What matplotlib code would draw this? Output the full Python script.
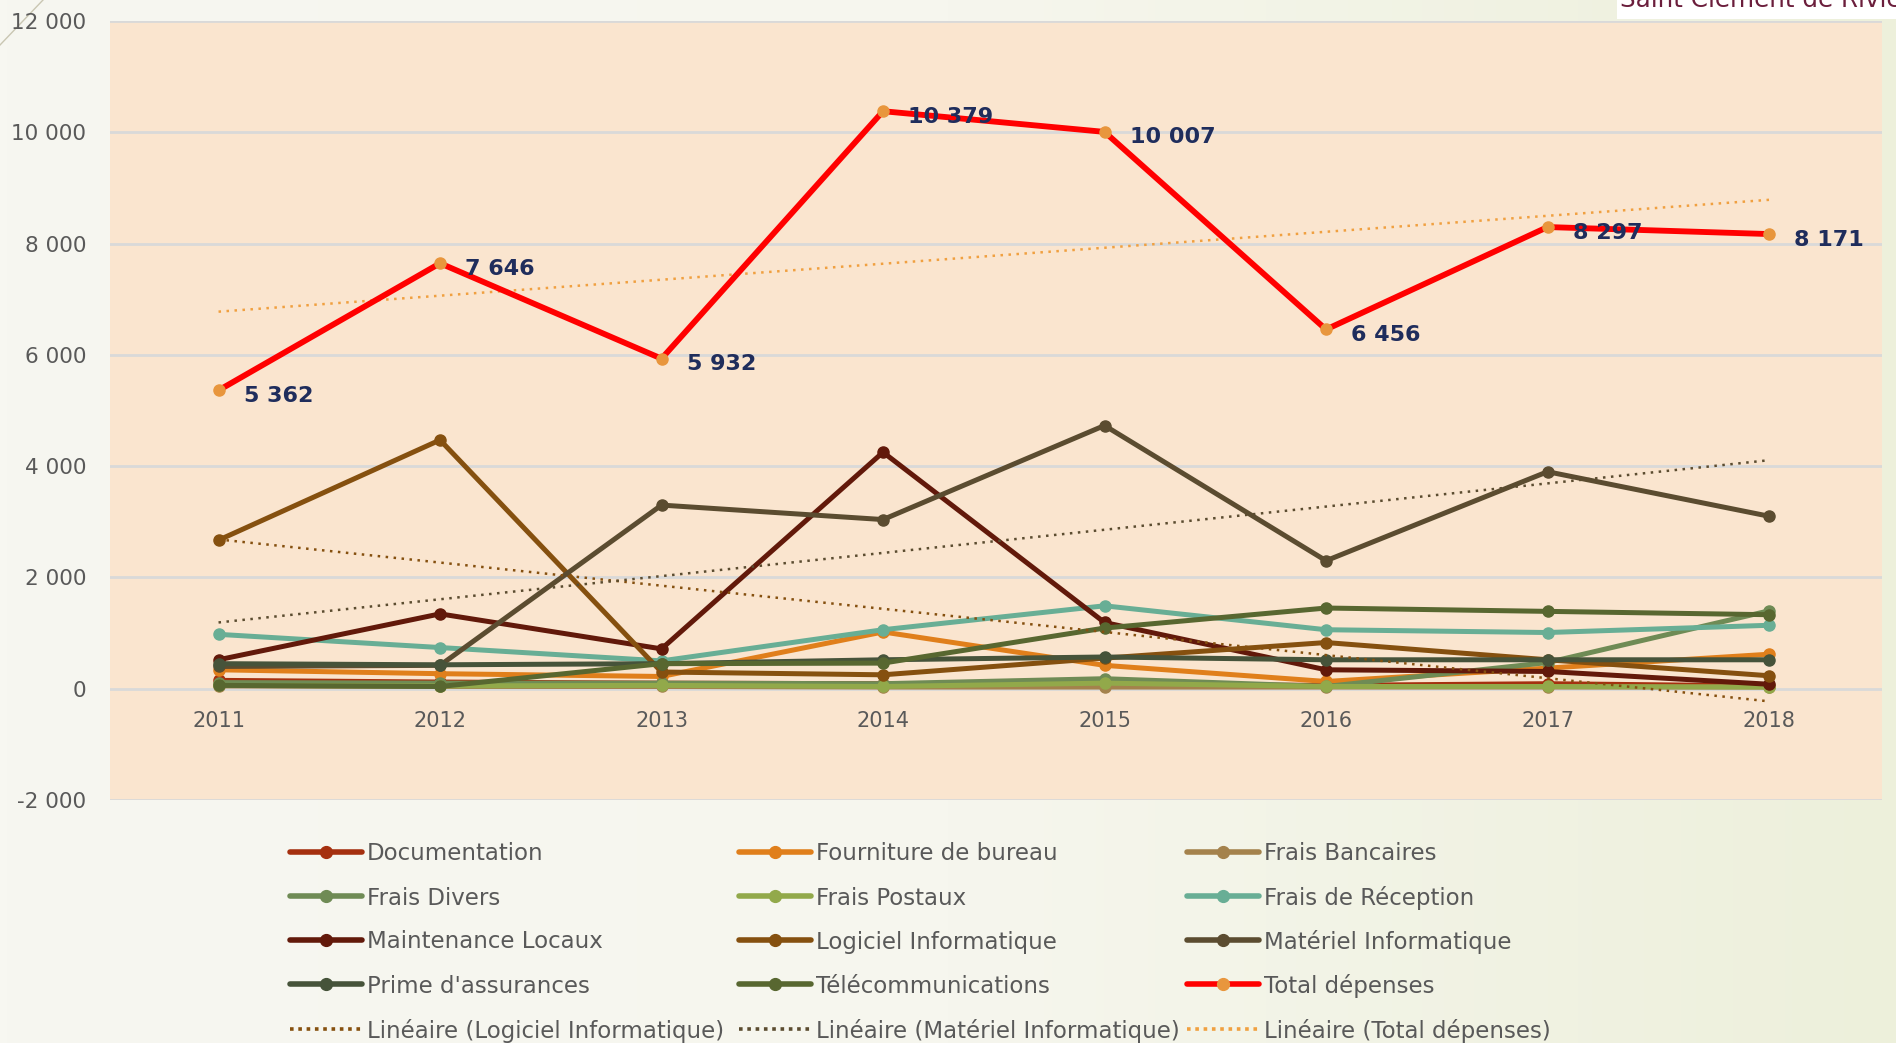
import numpy as np
import matplotlib
matplotlib.use("Agg")
import matplotlib.pyplot as plt
from matplotlib.ticker import FuncFormatter
from matplotlib.lines import Line2D
from matplotlib.patches import Rectangle
from matplotlib.colors import LinearSegmentedColormap

plt.rcParams['font.family'] = ['DejaVu Sans']

years = ["2011", "2012", "2013", "2014", "2015", "2016", "2017", "2018"]

documentation = [150, 120, 100, 90, 80, 60, 90, 50]
fourniture = [340, 270, 220, 1020, 420, 130, 370, 620]
frais_bancaires = [50, 40, 40, 30, 30, 30, 30, 30]
frais_divers = [110, 100, 100, 90, 180, 40, 470, 1400]
frais_postaux = [60, 50, 60, 40, 100, 40, 40, 30]
frais_reception = [977, 740, 500, 1060, 1490, 1060, 1010, 1140]
maintenance = [520, 1345, 716, 4250, 1190, 340, 310, 80]
logiciel = [2670, 4470, 300, 250, 550, 830, 520, 233]
materiel = [400, 420, 3300, 3040, 4730, 2300, 3900, 3100]
prime = [450, 430, 450, 520, 570, 520, 520, 520]
telecom = [60, 40, 450, 460, 1090, 1450, 1390, 1330]
total = [5362, 7646, 5932, 10379, 10007, 6456, 8297, 8171]

series_names = ["Documentation", "Fourniture de bureau", "Frais Bancaires",
                "Frais Divers", "Frais Postaux", "Frais de Réception",
                "Maintenance Locaux", "Logiciel Informatique", "Matériel Informatique",
                "Prime d'assurances", "Télécommunications"]
series_values = [documentation, fourniture, frais_bancaires, frais_divers, frais_postaux,
                 frais_reception, maintenance, logiciel, materiel, prime, telecom]
series_colors = ["#A5300F", "#E07F1B", "#A4824C", "#6F8B55", "#92A94A", "#68AE95",
                 "#62190A", "#85500F", "#5B4C30", "#46533A", "#586730"]

W, H = 1896, 1043
fig = plt.figure(figsize=(W / 100, H / 100), dpi=100)

# background gradient
bg = fig.add_axes([0, 0, 1, 1], zorder=-10)
grad = np.linspace(0, 1, 256)[None, :]
cmap = LinearSegmentedColormap.from_list("bg", ["#F7F7F1", "#F6F6EE", "#EDF0DB"])
bg.imshow(grad, aspect="auto", cmap=cmap, extent=[0, 1, 0, 1])
bg.plot([0, 43 / W], [1 - 45 / H, 1], color="#C9C6B2", lw=1)
bg.set_xlim(0, 1)
bg.set_ylim(0, 1)
bg.axis("off")

ax = fig.add_axes([110 / W, 1 - 800 / H, (1882 - 110) / W, (800 - 21) / H])
ax.set_facecolor("#FAE5CF")
for s in ax.spines.values():
    s.set_visible(False)

x = np.arange(len(years))
for name, vals, col in zip(series_names, series_values, series_colors):
    ax.plot(x, vals, color=col, lw=3.6, marker="o", ms=8, solid_capstyle="round",
            label=name, zorder=3)

ax.plot(x, total, color="#FF0000", lw=4.2, marker="o", ms=8, mfc="#E8963D", mec="#E8963D",
        label="Total dépenses", zorder=5)

trend_specs = [("Linéaire (Logiciel Informatique)", logiciel, "#85500F"),
               ("Linéaire (Matériel Informatique)", materiel, "#5B4C30"),
               ("Linéaire (Total dépenses)", total, "#F0A040")]
for name, vals, col in trend_specs:
    p = np.polyfit(x, vals, 1)
    ax.plot(x, np.polyval(p, x), color=col, lw=1.8, ls=(0, (1, 2.2)), zorder=4, label=name)

for xi, v in zip(x, total):
    ax.annotate(f"{v:,}".replace(",", " "), (xi, v), xytext=(18, -4), textcoords="offset points",
                ha="left", va="center", fontsize=16, fontweight="bold", color="#1F2D5C", zorder=6)

ax.set_xlim(-0.49, 7.51)
ax.set_ylim(-2000, 12000)
ax.set_yticks(np.arange(-2000, 12001, 2000))
ax.yaxis.set_major_formatter(FuncFormatter(lambda v, p: f"{int(v):,}".replace(",", " ")))
ax.set_xticks(x)
ax.set_xticklabels(years)
ax.spines["bottom"].set_position(("data", 0))
ax.tick_params(axis="both", length=0, labelcolor="#595959")
ax.tick_params(axis="y", pad=17, labelsize=15.5)
ax.tick_params(axis="x", pad=16, labelsize=15)
ax.grid(axis="y", color="#D9D9D9", lw=2)
ax.set_axisbelow(True)

# legend drawn manually in a 3-column, 5-row grid (figure pixel layout)
entries = []
for name, col in zip(series_names, series_colors):
    entries.append((name, dict(color=col, lw=4, solid_capstyle="round"), dict(mfc=col, mec=col)))
entries.append(("Total dépenses", dict(color="#FF0000", lw=4, solid_capstyle="round"),
                dict(mfc="#E8963D", mec="#E8963D")))
for name, vals, col in trend_specs:
    entries.append((name, dict(color=col, lw=2.6, ls=(0, (1, 1.3))), None))

col_x = [290, 739, 1187]
row_y = [851.5, 895.7, 939.5, 984, 1029]
hlen = 72
tf = fig.transFigure
for i, (name, lstyle, mstyle) in enumerate(entries):
    r, c = divmod(i, 3)
    x0 = col_x[c]
    y0 = row_y[r]
    fy = 1 - y0 / H
    fig.add_artist(Line2D([x0 / W, (x0 + hlen) / W], [fy, fy], transform=tf, **lstyle))
    if mstyle is not None:
        fig.add_artist(Line2D([(x0 + hlen / 2) / W], [fy], transform=tf, marker="o", ms=8.5,
                              ls="none", **mstyle))
    fig.text((x0 + 77) / W, 1 - (y0 + 9) / H, name, fontsize=16.5, color="#595959",
             ha="left", va="baseline")

# title fragment at top right (cut by the top edge, as in the source)
fig.patches.append(Rectangle((1617 / W, 1 - 19 / H), (W - 1617) / W, 19 / H,
                             transform=tf, fc="white", ec="none", zorder=5))
fig.text(1620 / W, 1 - 7 / H, "Saint Clément de Rivière", fontsize=17.7, color="#6B1E3C",
         ha="left", va="baseline", zorder=6)

fig.savefig("out.png", dpi=100)
